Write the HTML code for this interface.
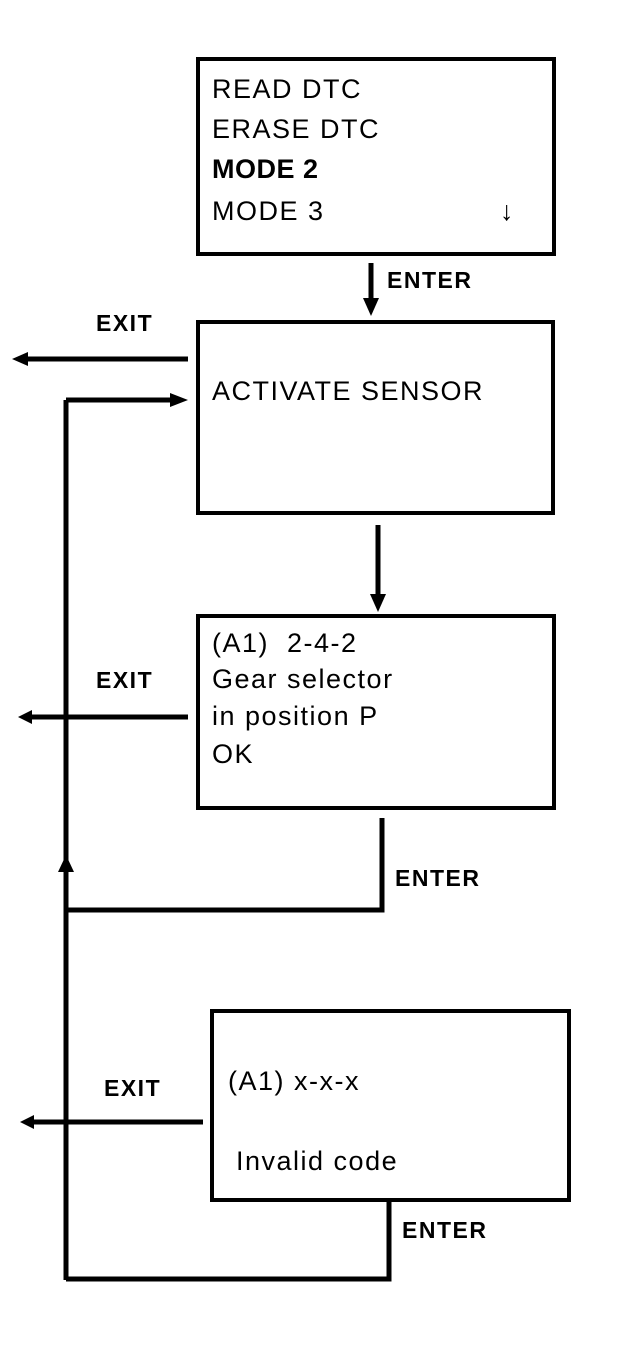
<!DOCTYPE html>
<html><head><style>
html,body{margin:0;padding:0;background:#fff}
svg text{font-family:"Liberation Sans",Arial,sans-serif;fill:#000;white-space:pre}
</style></head><body>
<svg width="640" height="1346" viewBox="0 0 640 1346" xmlns="http://www.w3.org/2000/svg">
<g fill="none" stroke="#000" stroke-width="4">
<rect x="198" y="59" width="356" height="195"/>
<rect x="198" y="322" width="355" height="191"/>
<rect x="198" y="616" width="356" height="192"/>
<rect x="212" y="1011" width="357" height="189"/>
</g>
<g stroke="#000" stroke-width="5" fill="none">
<line x1="371" y1="263" x2="371" y2="300"/>
<line x1="188" y1="359" x2="24" y2="359"/>
<line x1="66" y1="400" x2="172" y2="400"/>
<line x1="66" y1="400" x2="66" y2="1280"/>
<line x1="378" y1="525" x2="378" y2="596"/>
<line x1="188" y1="717" x2="30" y2="717"/>
<polyline points="382,818 382,910 66,910"/>
<line x1="203" y1="1122" x2="32" y2="1122"/>
<polyline points="389,1200 389,1279 66,1279"/>
</g>
<g fill="#000">
<polygon points="363,298 379,298 371,316"/>
<polygon points="12,359 28,352 28,366"/>
<polygon points="188,400 170,393 170,407"/>
<polygon points="370,594 386,594 378,612"/>
<polygon points="18,717 32,710 32,724"/>
<polygon points="58,872 74,872 66,855"/>
<polygon points="20,1122 34,1115 34,1129"/>
</g>
<g font-size="27" letter-spacing="1.5">
<text x="212" y="98">READ DTC</text>
<text x="212" y="138">ERASE DTC</text>
<text x="212" y="178" font-weight="bold" letter-spacing="0.5">MODE 2</text>
<text x="212" y="220">MODE 3</text>
<text x="500" y="220">↓</text>
<text x="212" y="400">ACTIVATE SENSOR</text>
<text x="212" y="652">(A1)  2-4-2</text>
<text x="212" y="688">Gear selector</text>
<text x="212" y="725">in position P</text>
<text x="212" y="763">OK</text>
<text x="228" y="1090">(A1) x-x-x</text>
<text x="236" y="1170">Invalid code</text>
</g>
<g font-size="23" font-weight="bold" letter-spacing="1.5">
<text x="387" y="288">ENTER</text>
<text x="96" y="331">EXIT</text>
<text x="96" y="688">EXIT</text>
<text x="395" y="886">ENTER</text>
<text x="104" y="1096">EXIT</text>
<text x="402" y="1238">ENTER</text>
</g>
</svg>
</body></html>
